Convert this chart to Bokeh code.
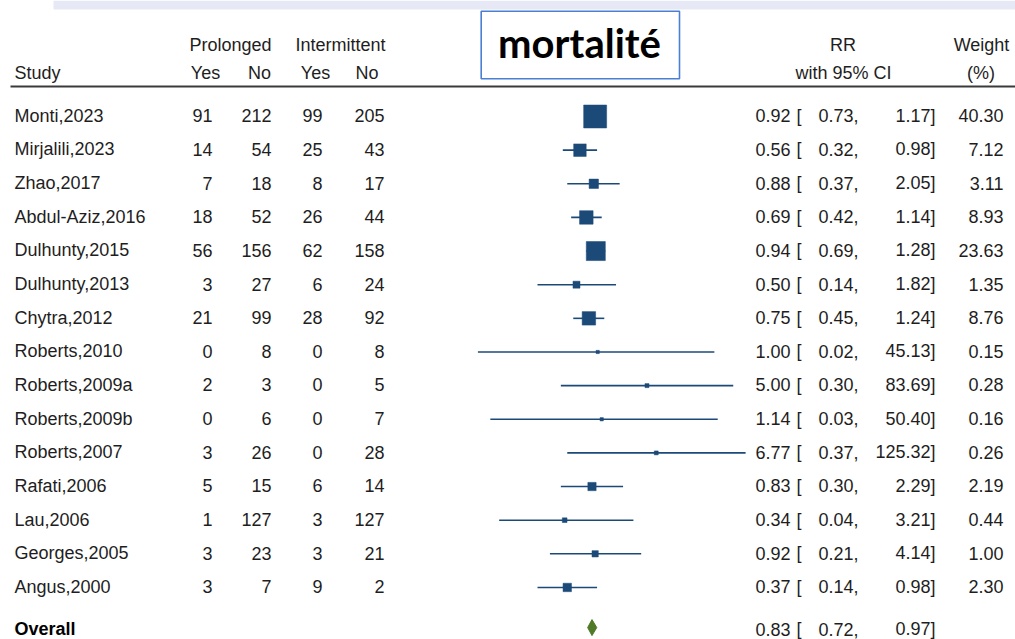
from bokeh.plotting import figure
from bokeh.models import Range1d, LogScale, ColumnDataSource
from bokeh.core.properties import value
from bokeh.embed import file_html
from bokeh.resources import INLINE

# ---------------- data ----------------
studies = ["Monti,2023", "Mirjalili,2023", "Zhao,2017", "Abdul-Aziz,2016", "Dulhunty,2015",
           "Dulhunty,2013", "Chytra,2012", "Roberts,2010", "Roberts,2009a", "Roberts,2009b",
           "Roberts,2007", "Rafati,2006", "Lau,2006", "Georges,2005", "Angus,2000"]
prol_yes = [91, 14, 7, 18, 56, 3, 21, 0, 2, 0, 3, 5, 1, 3, 3]
prol_no = [212, 54, 18, 52, 156, 27, 99, 8, 3, 6, 26, 15, 127, 23, 7]
int_yes = [99, 25, 8, 26, 62, 6, 28, 0, 0, 0, 0, 6, 3, 3, 9]
int_no = [205, 43, 17, 44, 158, 24, 92, 8, 5, 7, 28, 14, 127, 21, 2]
rr = [0.92, 0.56, 0.88, 0.69, 0.94, 0.50, 0.75, 1.00, 5.00, 1.14, 6.77, 0.83, 0.34, 0.92, 0.37]
ci_low = [0.73, 0.32, 0.37, 0.42, 0.69, 0.14, 0.45, 0.02, 0.30, 0.03, 0.37, 0.30, 0.04, 0.21, 0.14]
ci_high = [1.17, 0.98, 2.05, 1.14, 1.28, 1.82, 1.24, 45.13, 83.69, 50.40, 125.32, 2.29, 3.21, 4.14, 0.98]
weight = [40.30, 7.12, 3.11, 8.93, 23.63, 1.35, 8.76, 0.15, 0.28, 0.16, 0.26, 2.19, 0.44, 1.00, 2.30]
overall_label = "Overall"
overall_rr, overall_low, overall_high = 0.83, 0.72, 0.97
title_text = "mortalité"

# ---------------- layout ----------------
W, H = 1015, 639
PX = 33.64               # pixels per row
ROW0 = 116               # canvas y of first row centre
Y_TOP = -ROW0 / PX
Y_BOT = Y_TOP + H / PX
OVERALL_GAP = 1.263
SHIFT = 0.37             # svg baseline correction (fraction of font size)


def yp(cy):
    """convert a canvas y pixel to data y"""
    return Y_TOP + cy / PX


CENTER_PX = 597.2        # canvas x of RR = 1
DEC_PX = 70.5            # pixels per decade
rr_lo = 10 ** (-CENTER_PX / DEC_PX)
rr_hi = 10 ** ((W - CENTER_PX) / DEC_PX)

FONT = value("Liberation Sans")
FSN = 18
FS = f"{FSN}px"
TXT = "#1e1e1e"
BLUE = "#1c4a78"
GREEN = "#4f7a28"
BASE = (6.0 - SHIFT * FSN) / PX   # cap-centre -> rendered baseline offset

p = figure(width=W, height=H, x_range=Range1d(0, W), y_range=Range1d(Y_BOT, Y_TOP),
           x_axis_type=None, y_axis_type=None, toolbar_location=None,
           output_backend="svg", min_border=0)
p.outline_line_color = None
p.grid.visible = False
p.background_fill_color = "white"
p.border_fill_color = "white"
p.extra_x_ranges = {"rr": Range1d(rr_lo, rr_hi)}
p.extra_x_scales = {"rr": LogScale()}

# top band
p.quad(left=53, right=W, top=Y_TOP, bottom=yp(9), fill_color="#e6e9f5", line_color=None)

# title box
TFS = 40
p.quad(left=480.7, right=679, top=yp(10.7), bottom=yp(78.3), fill_color="white",
       line_color="#4a7fd6", line_width=1.6)
p.text(x=[579], y=[yp(57 - SHIFT * TFS)], text=[title_text], text_align="center",
       text_baseline="alphabetic", text_font=value("Lato"), text_font_style="bold",
       text_font_size=f"{TFS}px", text_color="#000000")

# header
def htext(x, base_y, s, align="center"):
    p.text(x=[x], y=[yp(base_y - SHIFT * FSN)], text=[s], text_align=align,
           text_baseline="alphabetic", text_font=FONT, text_font_size=FS, text_color=TXT)

htext(230, 50.7, "Prolonged")
htext(340, 50.7, "Intermittent")
htext(842.5, 50.7, "RR")
htext(981, 50.7, "Weight")
htext(14, 79.3, "Study", "left")
htext(205, 79.3, "Yes")
htext(259, 79.3, "No")
htext(315, 79.3, "Yes")
htext(366.5, 79.3, "No")
htext(843, 79.3, "with 95% CI")
htext(980.5, 79.3, "(%)")
p.segment(x0=[10], x1=[W], y0=[yp(86)], y1=[yp(86)], line_color="#3a3a3a", line_width=2)

# rows
n = len(studies)
rows = list(range(n))
ytxt = [r + BASE for r in rows]
src = ColumnDataSource(dict(
    y=rows, yt=ytxt, study=studies,
    py=[str(v) for v in prol_yes], pn=[str(v) for v in prol_no],
    iy=[str(v) for v in int_yes], inn=[str(v) for v in int_no],
    rr=rr, lo=ci_low, hi=ci_high,
    rrs=[f"{v:.2f}" for v in rr], los=[f"{v:.2f}," for v in ci_low],
    his=[f"{v:.2f}]" for v in ci_high], ws=[f"{v:.2f}" for v in weight],
    br=["[" for _ in rows],
    size=[6.3 * w ** 0.35 for w in weight],
))

def col(x, field, align):
    p.text(x=x, y="yt", text=field, source=src, text_align=align, text_baseline="alphabetic",
           text_font=FONT, text_font_size=FS, text_color=TXT)

col(14, "study", "left")
col(212, "py", "right")
col(271, "pn", "right")
col(322, "iy", "right")
col(384, "inn", "right")
col(790, "rrs", "right")
col(796, "br", "left")
col(858, "los", "right")
col(935, "his", "right")
col(1003, "ws", "right")

p.segment(x0="lo", x1="hi", y0="y", y1="y", source=src, x_range_name="rr",
          line_color=BLUE, line_width=1.6)
p.scatter(x="rr", y="y", size="size", marker="square", source=src, x_range_name="rr",
          fill_color=BLUE, line_color=BLUE, line_width=0.5)

# overall
yo = n - 1 + OVERALL_GAP
yd = yo - 0.07
h = 8.0 / PX
p.patch(x=[overall_low, overall_rr, overall_high, overall_rr], y=[yd, yd - h, yd, yd + h],
        x_range_name="rr", fill_color=GREEN, line_color=GREEN, line_width=1)
p.text(x=[14], y=[yo + BASE], text=[overall_label], text_align="left", text_baseline="alphabetic",
       text_font=FONT, text_font_style="bold", text_font_size=FS, text_color="#000000")
ov = [(790, f"{overall_rr:.2f}", "right"), (796, "[", "left"),
      (858, f"{overall_low:.2f},", "right"), (935, f"{overall_high:.2f}]", "right")]
for x, s, a in ov:
    p.text(x=[x], y=[yo + BASE], text=[s], text_align=a, text_baseline="alphabetic",
           text_font=FONT, text_font_size=FS, text_color=TXT)

open("out.html", "w").write(file_html(p, INLINE))
